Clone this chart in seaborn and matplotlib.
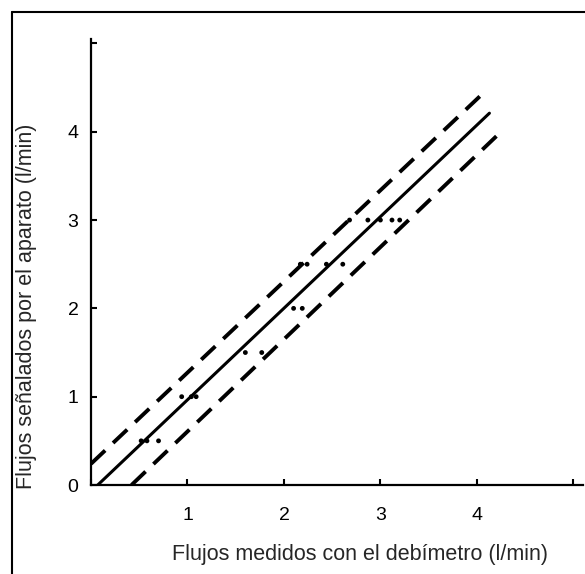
import matplotlib
matplotlib.use("Agg")
import matplotlib.pyplot as plt
import seaborn as sns
import pandas as pd
from matplotlib.lines import Line2D

# measured points (debimeter flow vs. device reading, l/min)
flow_meter = [0.52, 0.58, 0.70, 0.94, 1.04, 1.09, 1.60, 1.77, 2.10, 2.19,
              2.17, 2.24, 2.44, 2.61, 2.68, 2.87, 3.00, 3.12, 3.20]
flow_device = [0.5, 0.5, 0.5, 1.0, 1.0, 1.0, 1.5, 1.5, 2.0, 2.0,
               2.5, 2.5, 2.5, 2.5, 3.0, 3.0, 3.0, 3.0, 3.0]

# regression line and limits (end points)
fit_x = [0.07, 4.13]
fit_y = [0.0, 4.21]
upper_x = [0.0, 4.03]
upper_y = [0.24, 4.40]
lower_x = [0.42, 4.27]
lower_y = [0.0, 4.02]

x_ticks = [0, 1, 2, 3, 4, 5]
x_tick_labels = ["", "1", "2", "3", "4", ""]
y_ticks = [0, 1, 2, 3, 4, 5]
y_tick_labels = ["0", "1", "2", "3", "4", ""]

sns.set_theme(style="ticks")
plt.rcParams["font.family"] = ["Liberation Sans", "DejaVu Sans"]

fig = plt.figure(figsize=(5.85, 5.74), dpi=100)
ax = fig.add_axes((91 / 585, 89 / 574, 492 / 585, 446 / 574))

points = pd.DataFrame({"x": flow_meter, "y": flow_device})
sns.scatterplot(data=points, x="x", y="y", ax=ax, color="black", s=12,
                edgecolor="none", zorder=3)

sns.lineplot(x=fit_x, y=fit_y, ax=ax, color="black", lw=2.2)
for lx, ly in [(upper_x, upper_y), (lower_x, lower_y)]:
    line = sns.lineplot(x=lx, y=ly, ax=ax, color="black", lw=2.8).lines[-1]
    line.set_dashes((5, 2.8))

ax.set_xlim(0, 5.1)
ax.set_ylim(0, 5.05)
ax.set_xticks(x_ticks)
ax.set_xticklabels(x_tick_labels)
ax.set_yticks(y_ticks)
ax.set_yticklabels(y_tick_labels)
ax.tick_params(axis="both", direction="in", length=4, width=1.5,
               labelsize=14, colors="black")
ax.tick_params(axis="x", pad=16)
ax.tick_params(axis="y", pad=9)

sns.despine(ax=ax)
for side in ["left", "bottom"]:
    ax.spines[side].set_linewidth(1.6)
    ax.spines[side].set_color("black")

ax.set_xlabel("Flujos medidos con el debímetro (l/min)", fontsize=15.5)
ax.set_ylabel("Flujos señalados por el aparato (l/min)", fontsize=15.5)
ax.xaxis.set_label_coords(0.547, -0.132)
ax.yaxis.set_label_coords(-0.109, 0.40)

# frame around the figure (left and top visible)
fig.add_artist(Line2D([12 / 585, 12 / 585], [0, 1 - 12 / 574],
                      transform=fig.transFigure, color="black", lw=1.5))
fig.add_artist(Line2D([12 / 585, 1], [1 - 12 / 574, 1 - 12 / 574],
                      transform=fig.transFigure, color="black", lw=1.5))

fig.savefig("out.png", dpi=100)
